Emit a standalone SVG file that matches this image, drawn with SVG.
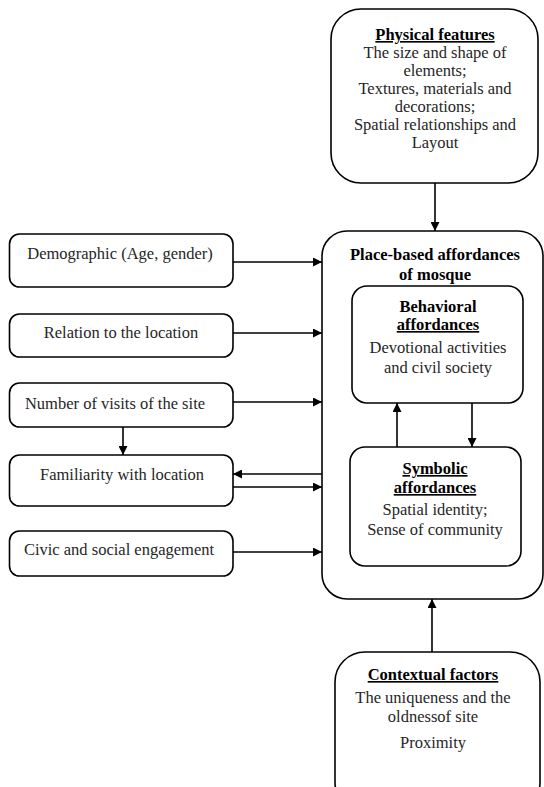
<svg xmlns="http://www.w3.org/2000/svg" width="544" height="787" viewBox="0 0 544 787">
<defs>
<style>
.box{fill:#fff;stroke:#000;stroke-width:1.6}
.t{font-family:"Liberation Serif","Times New Roman",serif;font-size:16.5px;fill:#262626;text-anchor:middle}
.b{font-weight:bold;fill:#000}
.u{text-decoration:underline}
.c{stroke:#000;stroke-width:1.6;fill:none}
</style>
<marker id="ah" viewBox="0 0 10 10" refX="10" refY="5" markerWidth="9" markerHeight="9" markerUnits="userSpaceOnUse" orient="auto">
<path d="M0,0 L10,5 L0,10 z" fill="#000"/>
</marker>
</defs>
<rect width="544" height="787" fill="#fff"/>
<g id="physical">
<rect class="box" x="331" y="9" width="207" height="174" rx="30"/>
<text class="t b u" x="435" y="40">Physical features</text>
<text class="t" x="435" y="58">The size and shape of</text>
<text class="t" x="435" y="76">elements;</text>
<text class="t" x="435" y="94">Textures, materials and</text>
<text class="t" x="435" y="112">decorations;</text>
<text class="t" x="435" y="130">Spatial relationships and</text>
<text class="t" x="435" y="148">Layout</text>
</g>
<g id="main">
<rect class="box" x="322" y="231" width="221" height="368" rx="25"/>
<text class="t b" x="435" y="260">Place-based affordances</text>
<text class="t b" x="435" y="280">of mosque</text>
</g>
<g id="behavioral">
<rect class="box" x="352" y="286" width="171" height="117" rx="15"/>
<text class="t b" x="438" y="312">Behavioral</text>
<text class="t b u" x="438" y="330">affordances</text>
<text class="t" x="438" y="353">Devotional activities</text>
<text class="t" x="438" y="373">and civil society</text>
</g>
<g id="symbolic">
<rect class="box" x="350" y="447" width="171" height="119" rx="15"/>
<text class="t b u" x="435" y="474">Symbolic</text>
<text class="t b u" x="435" y="493">affordances</text>
<text class="t" x="435" y="515">Spatial identity;</text>
<text class="t" x="435" y="535">Sense of community</text>
</g>
<g id="contextual">
<rect class="box" x="335" y="652" width="205" height="160" rx="30"/>
<text class="t b u" x="433" y="680">Contextual factors</text>
<text class="t" x="433" y="703">The uniqueness and the</text>
<text class="t" x="433" y="722">oldnessof site</text>
<text class="t" x="433" y="748">Proximity</text>
</g>
<g id="demographic">
<rect class="box" x="9.5" y="234" width="223.5" height="53" rx="10"/>
<text class="t" x="120" y="259">Demographic (Age, gender)</text>
</g>
<g id="relation">
<rect class="box" x="9.5" y="314" width="223.5" height="43" rx="10"/>
<text class="t" x="121" y="338">Relation to the location</text>
</g>
<g id="visits">
<rect class="box" x="9.5" y="383" width="223.5" height="44" rx="10"/>
<text class="t" x="115" y="409">Number of visits of the site</text>
</g>
<g id="familiarity">
<rect class="box" x="9.5" y="455" width="223.5" height="51" rx="10"/>
<text class="t" x="122" y="480">Familiarity with location</text>
</g>
<g id="civic">
<rect class="box" x="9.5" y="531" width="223.5" height="45" rx="10"/>
<text class="t" x="119" y="555">Civic and social engagement</text>
</g>
<g id="connectors">
<line class="c" x1="435" y1="183" x2="435" y2="231" marker-end="url(#ah)"/>
<line class="c" x1="233" y1="262" x2="322" y2="262" marker-end="url(#ah)"/>
<line class="c" x1="233" y1="333" x2="322" y2="333" marker-end="url(#ah)"/>
<line class="c" x1="233" y1="402" x2="322" y2="402" marker-end="url(#ah)"/>
<line class="c" x1="123" y1="427" x2="123" y2="455" marker-end="url(#ah)"/>
<line class="c" x1="322" y1="474" x2="233" y2="474" marker-end="url(#ah)"/>
<line class="c" x1="233" y1="487" x2="322" y2="487" marker-end="url(#ah)"/>
<line class="c" x1="233" y1="552" x2="322" y2="552" marker-end="url(#ah)"/>
<line class="c" x1="397" y1="447" x2="397" y2="403" marker-end="url(#ah)"/>
<line class="c" x1="472" y1="403" x2="472" y2="447" marker-end="url(#ah)"/>
<line class="c" x1="432" y1="652" x2="432" y2="599" marker-end="url(#ah)"/>
</g>
</svg>
